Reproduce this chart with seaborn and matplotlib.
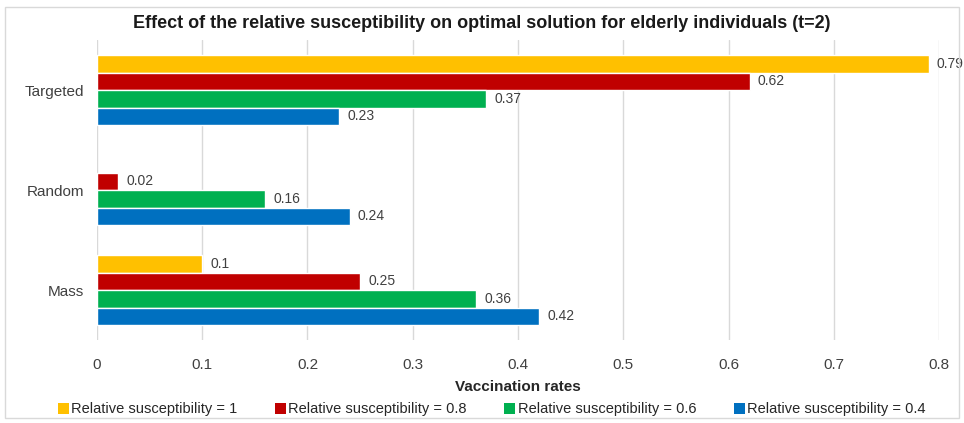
import numpy as np
import pandas as pd
import matplotlib
matplotlib.use("Agg")
import matplotlib.pyplot as plt
from matplotlib.patches import Rectangle, Patch
import seaborn as sns

# Vaccination strategies and the optimal rates under each relative susceptibility
strategies = ["Targeted", "Random", "Mass"]
series_names = [
    "Relative susceptibility = 1",
    "Relative susceptibility = 0.8",
    "Relative susceptibility = 0.6",
    "Relative susceptibility = 0.4",
]
rs_1 = [0.79, np.nan, 0.10]
rs_08 = [0.62, 0.02, 0.25]
rs_06 = [0.37, 0.16, 0.36]
rs_04 = [0.23, 0.24, 0.42]
colors = ["#FFC000", "#C00000", "#00B050", "#0070C0"]

rows = []
for name, vals in zip(series_names, [rs_1, rs_08, rs_06, rs_04]):
    for s, v in zip(strategies, vals):
        rows.append({"strategy": s, "series": name, "rate": v})
df = pd.DataFrame(rows)

sns.set_theme(style="white")
plt.rcParams["font.family"] = ["Liberation Sans", "DejaVu Sans"]

fig = plt.figure(figsize=(9.64, 4.23), dpi=100)
ax = fig.add_axes([0.1006, 0.196, 0.8735, 0.7094])

sns.barplot(
    data=df, y="strategy", x="rate", hue="series",
    order=strategies, hue_order=series_names, palette=colors,
    orient="h", width=0.7, edgecolor="white", linewidth=1.0,
    saturation=1.0, errorbar=None, legend=False, ax=ax,
)

for cont in ax.containers:
    labels = [f"{w:g}" if np.isfinite(w) and w > 0 else "" for w in cont.datavalues]
    ax.bar_label(cont, labels=labels, padding=6, fontsize=10, color="#404040")

ax.set_xlim(0, 0.8)
ax.set_ylim(2.5, -0.5)
ax.set_xticks(np.arange(0, 0.81, 0.1))
ax.set_xticklabels(["0", "0.1", "0.2", "0.3", "0.4", "0.5", "0.6", "0.7", "0.8"])
ax.grid(axis="x", color="#D9D9D9", linewidth=1)
ax.set_axisbelow(True)
for sp in ax.spines.values():
    sp.set_visible(False)
ax.tick_params(axis="x", length=0, pad=13, labelsize=11, labelcolor="#404040")
ax.tick_params(axis="y", length=0, pad=9, labelsize=11, labelcolor="#404040")
ax.set_ylabel("")
ax.set_xlabel("Vaccination rates", fontsize=11, fontweight="bold", color="#262626", labelpad=6)

fig.text(0.5, 0.945, "Effect of the relative susceptibility on optimal solution for elderly individuals (t=2)",
         ha="center", va="center", fontsize=13, fontweight="bold", color="#1a1a1a")

handles = [Patch(facecolor=c, edgecolor="none") for c in colors]
fig.legend(handles, series_names, loc="center", bbox_to_anchor=(0.51, 0.032), ncol=4,
           frameon=False, fontsize=10.5, handlelength=0.75, handleheight=0.75,
           handletextpad=0.15, columnspacing=2.6, labelcolor="#262626")

fig.patches.append(Rectangle((0.005, 0.012), 0.99, 0.972, transform=fig.transFigure,
                             fill=False, edgecolor="#D9D9D9", linewidth=1))

fig.savefig("out.png", dpi=100)
